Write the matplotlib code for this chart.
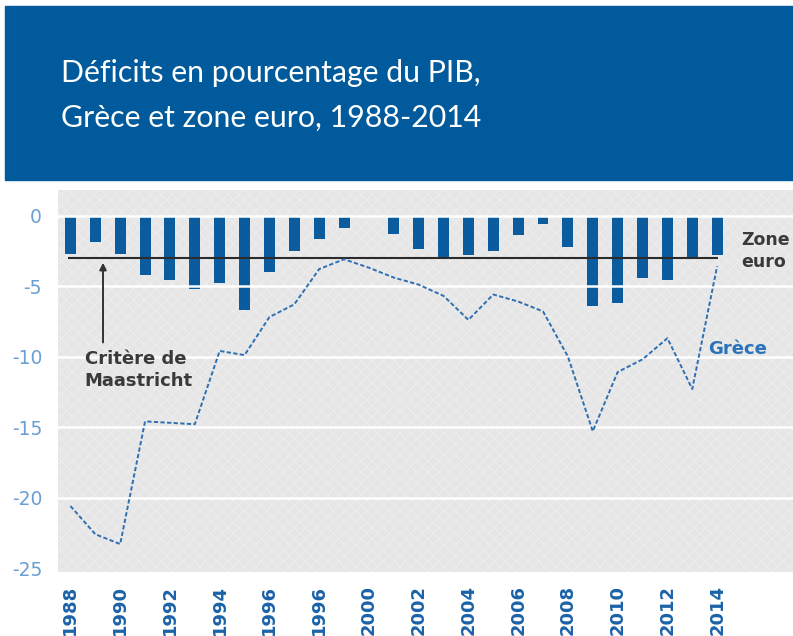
import matplotlib
matplotlib.use("Agg")
import matplotlib.pyplot as plt
from matplotlib.patches import Rectangle

# ---------------- data ----------------
years = list(range(1988, 2015))
zone_euro = [-2.7, -1.9, -2.7, -4.2, -4.6, -5.2, -4.8, -6.7, -4.0, -2.5, -1.7, -0.9,
             0.0, -1.3, -2.4, -3.1, -2.8, -2.5, -1.4, -0.6, -2.2, -6.4, -6.2, -4.4,
             -4.6, -3.1, -2.8]
grece = [-20.6, -22.6, -23.3, -14.6, -14.7, -14.8, -9.6, -9.9, -7.2, -6.3, -3.8, -3.1,
         -3.7, -4.4, -4.9, -5.7, -7.4, -5.6, -6.1, -6.8, -10.0, -15.3, -11.1, -10.2,
         -8.7, -12.3, -3.6]
maastricht = -3
xtick_years = list(range(1988, 2015, 2))
xtick_labels = ['1988', '1990', '1992', '1994', '1996', '1996', '2000', '2002',
                '2004', '2006', '2008', '2010', '2012', '2014']
ytick_values = [0, -5, -10, -15, -20, -25]
ytick_labels = ['0', '-5', '-10', '-15', '-20', '-25']
title_lines = ["Déficits en pourcentage du PIB,", "Grèce et zone euro, 1988-2014"]

# ---------------- styling ----------------
W, H = 793, 636
BLUE_DARK = '#005a9c'
BAR_BLUE = '#0a5c9e'
LINE_BLUE = '#2f6fb0'
TICK_BLUE = '#6a9fd2'
XTICK_BLUE = '#1b62a8'
GREY_TXT = '#3a3a3a'

plt.rcParams['hatch.linewidth'] = 0.6

fig = plt.figure(figsize=(W / 100, H / 100), dpi=100)
fig.patch.set_facecolor('white')

# title band
fig.patches.append(Rectangle((5 / W, 1 - 180 / H), 1 - 5 / W, (180 - 6) / H,
                             transform=fig.transFigure, color=BLUE_DARK, zorder=0))
for i, line in enumerate(title_lines):
    fig.text(61 / W, 1 - (73 + 45 * i) / H, line, color='white', fontsize=21.8,
             family='Lato', va='center', ha='left')

# axes
ax = fig.add_axes([58 / W, 1 - 572 / H, 1 - 58 / W, (572 - 190) / H])
ax.set_facecolor('#e6e6e6')
ax.add_patch(Rectangle((0, 0), 1, 1, transform=ax.transAxes, facecolor='none',
                       edgecolor='#eeeeee', hatch='xxx', lw=0, zorder=0.5))
ax.set_xlim(1987.5, 2017.05)
ax.set_ylim(-25.28, 1.81)

ax.bar(years, zone_euro, width=0.44, color=BAR_BLUE, zorder=2)
for yv in ytick_values[:-1]:
    ax.axhline(yv, color='white', lw=1.8, zorder=3)
ax.hlines(maastricht, 1987.9, 2014.05, color='#2b2b2b', lw=1.5, zorder=4)
ax.plot(years, grece, color=LINE_BLUE, lw=1.4, ls=(0, (2.2, 1.2)), zorder=5)

for s in ax.spines.values():
    s.set_visible(False)

ax.set_yticks(ytick_values)
ax.set_yticklabels(ytick_labels, color=TICK_BLUE, fontsize=13.5)
ax.set_xticks(xtick_years)
ax.set_xticklabels(xtick_labels, rotation=90, color=XTICK_BLUE, fontsize=13,
                   fontweight='bold')
ax.tick_params(axis='y', length=0, pad=11.5)
ax.tick_params(axis='x', length=0, pad=9.5)

# annotations
ax.annotate('', xy=(1989.31, -3.35), xytext=(1989.31, -9.0),
            arrowprops=dict(arrowstyle='-|>', color='#333333', lw=1.4,
                            mutation_scale=10, shrinkA=0, shrinkB=0), zorder=6)
ax.text(1988.58, -10.95, "Critère de\nMaastricht", color=GREY_TXT, fontsize=13,
        fontweight='bold', ha='left', va='center', linespacing=1.3, zorder=6)
ax.text(2014.95, -2.5, "Zone\neuro", color=GREY_TXT, fontsize=12.5,
        fontweight='bold', ha='left', va='center', linespacing=1.25, zorder=6)
ax.text(2013.65, -9.5, "Grèce", color='#2b72b8', fontsize=13,
        fontweight='bold', ha='left', va='center', zorder=6)

fig.savefig('out.png', dpi=100)
